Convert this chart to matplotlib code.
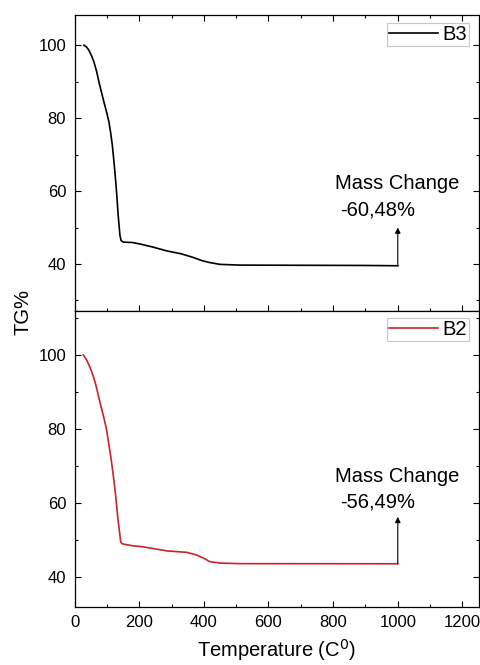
import numpy as np
import matplotlib
matplotlib.use('Agg')
import matplotlib.pyplot as plt
from matplotlib.ticker import MultipleLocator

plt.rcParams['font.family'] = ['Liberation Sans', 'DejaVu Sans']

# TGA curves (temperature in C, residual mass in %)
temp_b3 = [29, 37, 44.6, 52, 60, 68, 75.5, 83, 91, 99, 106.5, 112, 117, 124, 130, 135,
           140.5, 144, 150.7, 178.6, 202, 240, 285, 330, 367, 395, 418, 450, 511, 700,
           900, 1000]
tg_b3 = [100, 99.5, 98.6, 97.2, 95.4, 92.9, 89.9, 87.2, 84.4, 81.7, 78.9, 75.8, 72.5,
         66.1, 59.7, 53.3, 47.8, 46.4, 46.0, 45.9, 45.5, 44.7, 43.6, 42.8, 41.8, 40.9,
         40.4, 39.9, 39.7, 39.65, 39.6, 39.52]

temp_b2 = [27, 36, 44.6, 52, 60, 68, 75.5, 83, 91, 99, 106.5, 112, 117, 122, 127, 134,
           142.7, 146, 153, 178.6, 212, 285, 347, 377, 400, 418, 450, 511, 700, 900, 1000]
tg_b2 = [100, 98.9, 97.3, 95.7, 93.7, 91.2, 88.3, 85.7, 82.9, 79.8, 75.6, 72.6, 69.3,
         65.9, 62.1, 55.8, 49.5, 49.0, 48.8, 48.4, 48.1, 47.0, 46.6, 45.9, 45.0, 44.1,
         43.7, 43.55, 43.53, 43.52, 43.51]

labels = ['B3', 'B2']
mass_change = [-60.48, -56.49]
arrow_top = [50.0, 56.2]
title_y = [62.1, 67.1]
value_y = [54.8, 60.3]
ylims = [(27.2, 108.2), (31.9, 112.0)]
colors = ['black', '#cc2229']

fig = plt.figure(figsize=(4.81, 6.65), dpi=100)
ax_top = fig.add_axes([0.155, 0.5328, 0.840, 0.4442])
ax_bot = fig.add_axes([0.155, 0.0877, 0.840, 0.4451])

curves = [(temp_b3, tg_b3), (temp_b2, tg_b2)]
for i, ax in enumerate([ax_top, ax_bot]):
    t, tg = curves[i]
    ax.plot(t, tg, color=colors[i], lw=1.2, label=labels[i])

    # arrow up from the end of the plateau with the total mass change
    ax.annotate('', xy=(t[-1], arrow_top[i]), xytext=(t[-1], tg[-1]),
                arrowprops=dict(arrowstyle='-|>', color='black', lw=0.8,
                                mutation_scale=8, shrinkA=0, shrinkB=0))
    txt = f'{mass_change[i]:.2f}%'.replace('.', ',')
    ax.text(806, title_y[i], 'Mass Change', fontsize=14.5, ha='left', va='center')
    ax.text(822, value_y[i], txt, fontsize=14.5, ha='left', va='center')

    ax.set_xlim(0, 1250)
    ax.set_ylim(*ylims[i])
    ax.xaxis.set_major_locator(MultipleLocator(200))
    ax.xaxis.set_minor_locator(MultipleLocator(100))
    ax.yaxis.set_major_locator(MultipleLocator(20))
    ax.yaxis.set_minor_locator(MultipleLocator(10))
    ax.set_yticks([40, 60, 80, 100])
    ax.tick_params(which='both', direction='in', right=True, width=0.8, labelsize=12, pad=6)
    ax.tick_params(which='major', length=4.5)
    ax.tick_params(which='minor', length=2.5)
    for s in ax.spines.values():
        s.set_linewidth(0.9)

    leg = ax.legend(loc='upper right', bbox_to_anchor=(0.977, 0.975), fontsize=14.5,
                    handlelength=2.4, handletextpad=0.25, borderpad=0.1,
                    borderaxespad=0, fancybox=False, framealpha=1)
    leg.get_frame().set_edgecolor('#c8c8c8')
    leg.get_frame().set_linewidth(0.8)

ax_top.tick_params(which='both', top=True, labelbottom=False)
ax_bot.tick_params(which='both', top=False)

ax_bot.set_xlabel('Temperature (C$^0$)', fontsize=14.5, labelpad=5)
fig.text(0.048, 0.531, 'TG%', rotation=90, fontsize=14.5, ha='center', va='center')

fig.savefig('out.png', dpi=100)
